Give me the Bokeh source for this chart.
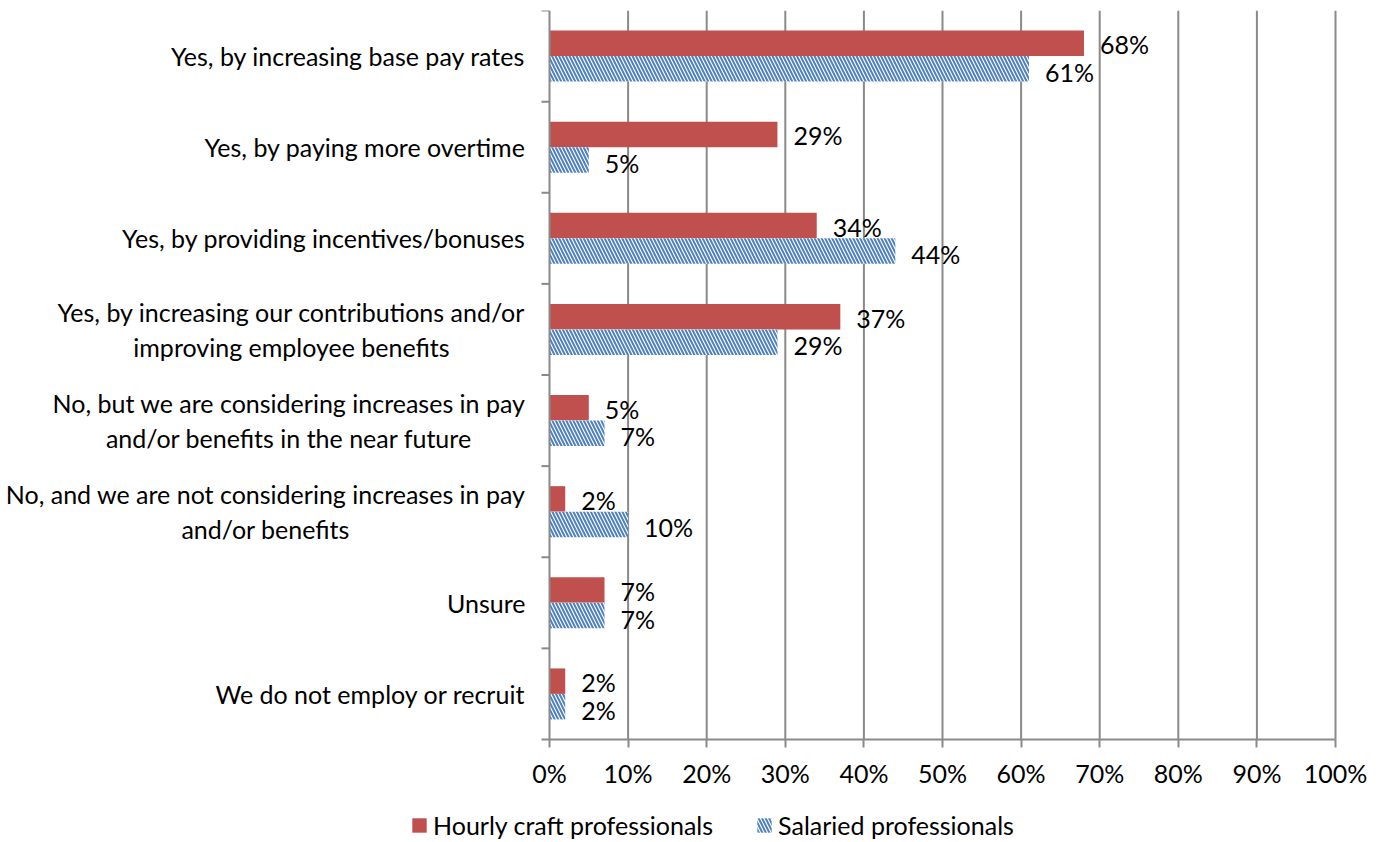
from bokeh.plotting import figure
from bokeh.models import (ColumnDataSource, FixedTicker, Legend, LegendItem,
                          LabelSet, Range1d)
from bokeh.core.properties import value
from bokeh.transform import dodge
from bokeh.embed import file_html
from bokeh.resources import INLINE

categories = [
    "Yes, by increasing base pay rates",
    "Yes, by paying more overtime",
    "Yes, by providing incentives/bonuses",
    "Yes, by increasing our contributions and/or\nimproving employee benefits",
    "No, but we are considering increases in pay\nand/or benefits in the near future",
    "No, and we are not considering increases in pay\nand/or benefits",
    "Unsure",
    "We do not employ or recruit",
]
hourly = [68, 29, 34, 37, 5, 2, 7, 2]
salaried = [61, 5, 44, 29, 7, 10, 7, 2]
x_ticks = [0, 10, 20, 30, 40, 50, 60, 70, 80, 90, 100]
series_names = ["Hourly craft professionals", "Salaried professionals"]

RED = "#C0504D"
BLUE = "#4F81BD"
FONT = "Lato"
FS = "25px"
GRID = "#8A8A8A"

n = len(categories)
ypos = [n - 1 - i + 0.5 for i in range(n)]  # top category first

# layout: plot area (0..100%) is 786 x 729 px, its top-left at (549, 10);
# the frame covers the whole canvas below TOP (labels left, legend below)
W, H = 1378, 842
AXIS_LEFT, TOP, PW, PH = 549, 10, 786, 729
PX_X = PW / 100
PX_Y = PH / n
x_start = -AXIS_LEFT / PX_X
x_end = 100 + (W - AXIS_LEFT - PW) / PX_X
y_start = -(H - TOP - PH) / PX_Y

src = ColumnDataSource(dict(
    y=ypos,
    cat=categories,
    zero=[0] * n,
    hourly=hourly,
    salaried=salaried,
    hl=[f"{v}%" for v in hourly],
    sl=[f"{v}%" for v in salaried],
))

p = figure(frame_width=W, frame_height=H - TOP, width=W, height=H,
           output_backend="svg", toolbar_location=None,
           x_range=Range1d(x_start, x_end), y_range=Range1d(y_start, n),
           y_axis_location=None, min_border_left=0, min_border_top=TOP,
           min_border_right=0, min_border_bottom=0)
p.outline_line_color = None
p.background_fill_color = "white"
p.border_fill_color = "white"
p.xgrid.grid_line_color = None
p.ygrid.grid_line_color = None

# vertical gridlines over the plot area
grid_x = x_ticks[1:]
p.segment(x0=grid_x, x1=grid_x, y0=[0] * len(grid_x), y1=[n] * len(grid_x),
          line_color=GRID, line_width=2)

bw = 0.28
r1 = p.hbar(y=dodge("y", bw / 2, range=p.y_range), right="hourly", left=0,
            height=bw, source=src, fill_color=RED, line_color=None)
r2 = p.hbar(y=dodge("y", -bw / 2, range=p.y_range), right="salaried", left=0,
            height=bw, source=src, fill_color="white", line_color=None,
            hatch_pattern="\\", hatch_color=BLUE, hatch_scale=7, hatch_weight=2.0)

# y axis line and category boundary ticks
p.segment(x0=[0], x1=[0], y0=[0], y1=[n], line_color=GRID, line_width=2)
bounds = list(range(n + 1))
p.segment(x0=[-8 / PX_X] * len(bounds), x1=[0] * len(bounds),
          y0=bounds, y1=bounds, line_color=GRID, line_width=2)

# category labels (right-aligned block, centred lines)
p.text(x="zero", y="y", text="cat", source=src, x_offset=-24,
       anchor="center_right", text_align="center", text_baseline="middle",
       text_font=value(FONT), text_font_size=FS, text_color="black",
       text_line_height=1.17)

lab1 = LabelSet(x="hourly", y=dodge("y", bw / 2, range=p.y_range), text="hl",
                source=src, x_offset=16, y_offset=-1, text_baseline="middle",
                text_font=value(FONT), text_font_size=FS, text_color="black")
lab2 = LabelSet(x="salaried", y=dodge("y", -bw / 2, range=p.y_range), text="sl",
                source=src, x_offset=16, y_offset=-3, text_baseline="middle",
                text_font=value(FONT), text_font_size=FS, text_color="black")
p.add_layout(lab1)
p.add_layout(lab2)

# x axis, drawn at y = 0
p.xaxis.fixed_location = 0
p.xaxis.bounds = (0, 100)
p.xaxis.ticker = FixedTicker(ticks=x_ticks)
p.xaxis.major_label_overrides = {t: f"{t}%" for t in x_ticks}
p.xaxis.axis_line_color = GRID
p.xaxis.axis_line_width = 2
p.xaxis.major_tick_line_color = GRID
p.xaxis.major_tick_line_width = 2
p.xaxis.major_tick_in = 0
p.xaxis.major_tick_out = 8
p.xaxis.minor_tick_line_color = None
p.xaxis.major_label_standoff = 10
p.xaxis.major_label_text_font = FONT
p.xaxis.major_label_text_font_size = FS
p.xaxis.major_label_text_color = "black"

legend = Legend(items=[LegendItem(label=series_names[0], renderers=[r1]),
                       LegendItem(label=series_names[1], renderers=[r2])],
                orientation="horizontal", location=(410, 2),
                label_text_font=FONT, label_text_font_size=FS,
                label_text_color="black", glyph_width=18, glyph_height=18,
                spacing=42, label_standoff=5, border_line_color=None,
                background_fill_alpha=0, padding=0, margin=0)
p.add_layout(legend, "center")

open("out.html", "w").write(file_html(p, INLINE))
